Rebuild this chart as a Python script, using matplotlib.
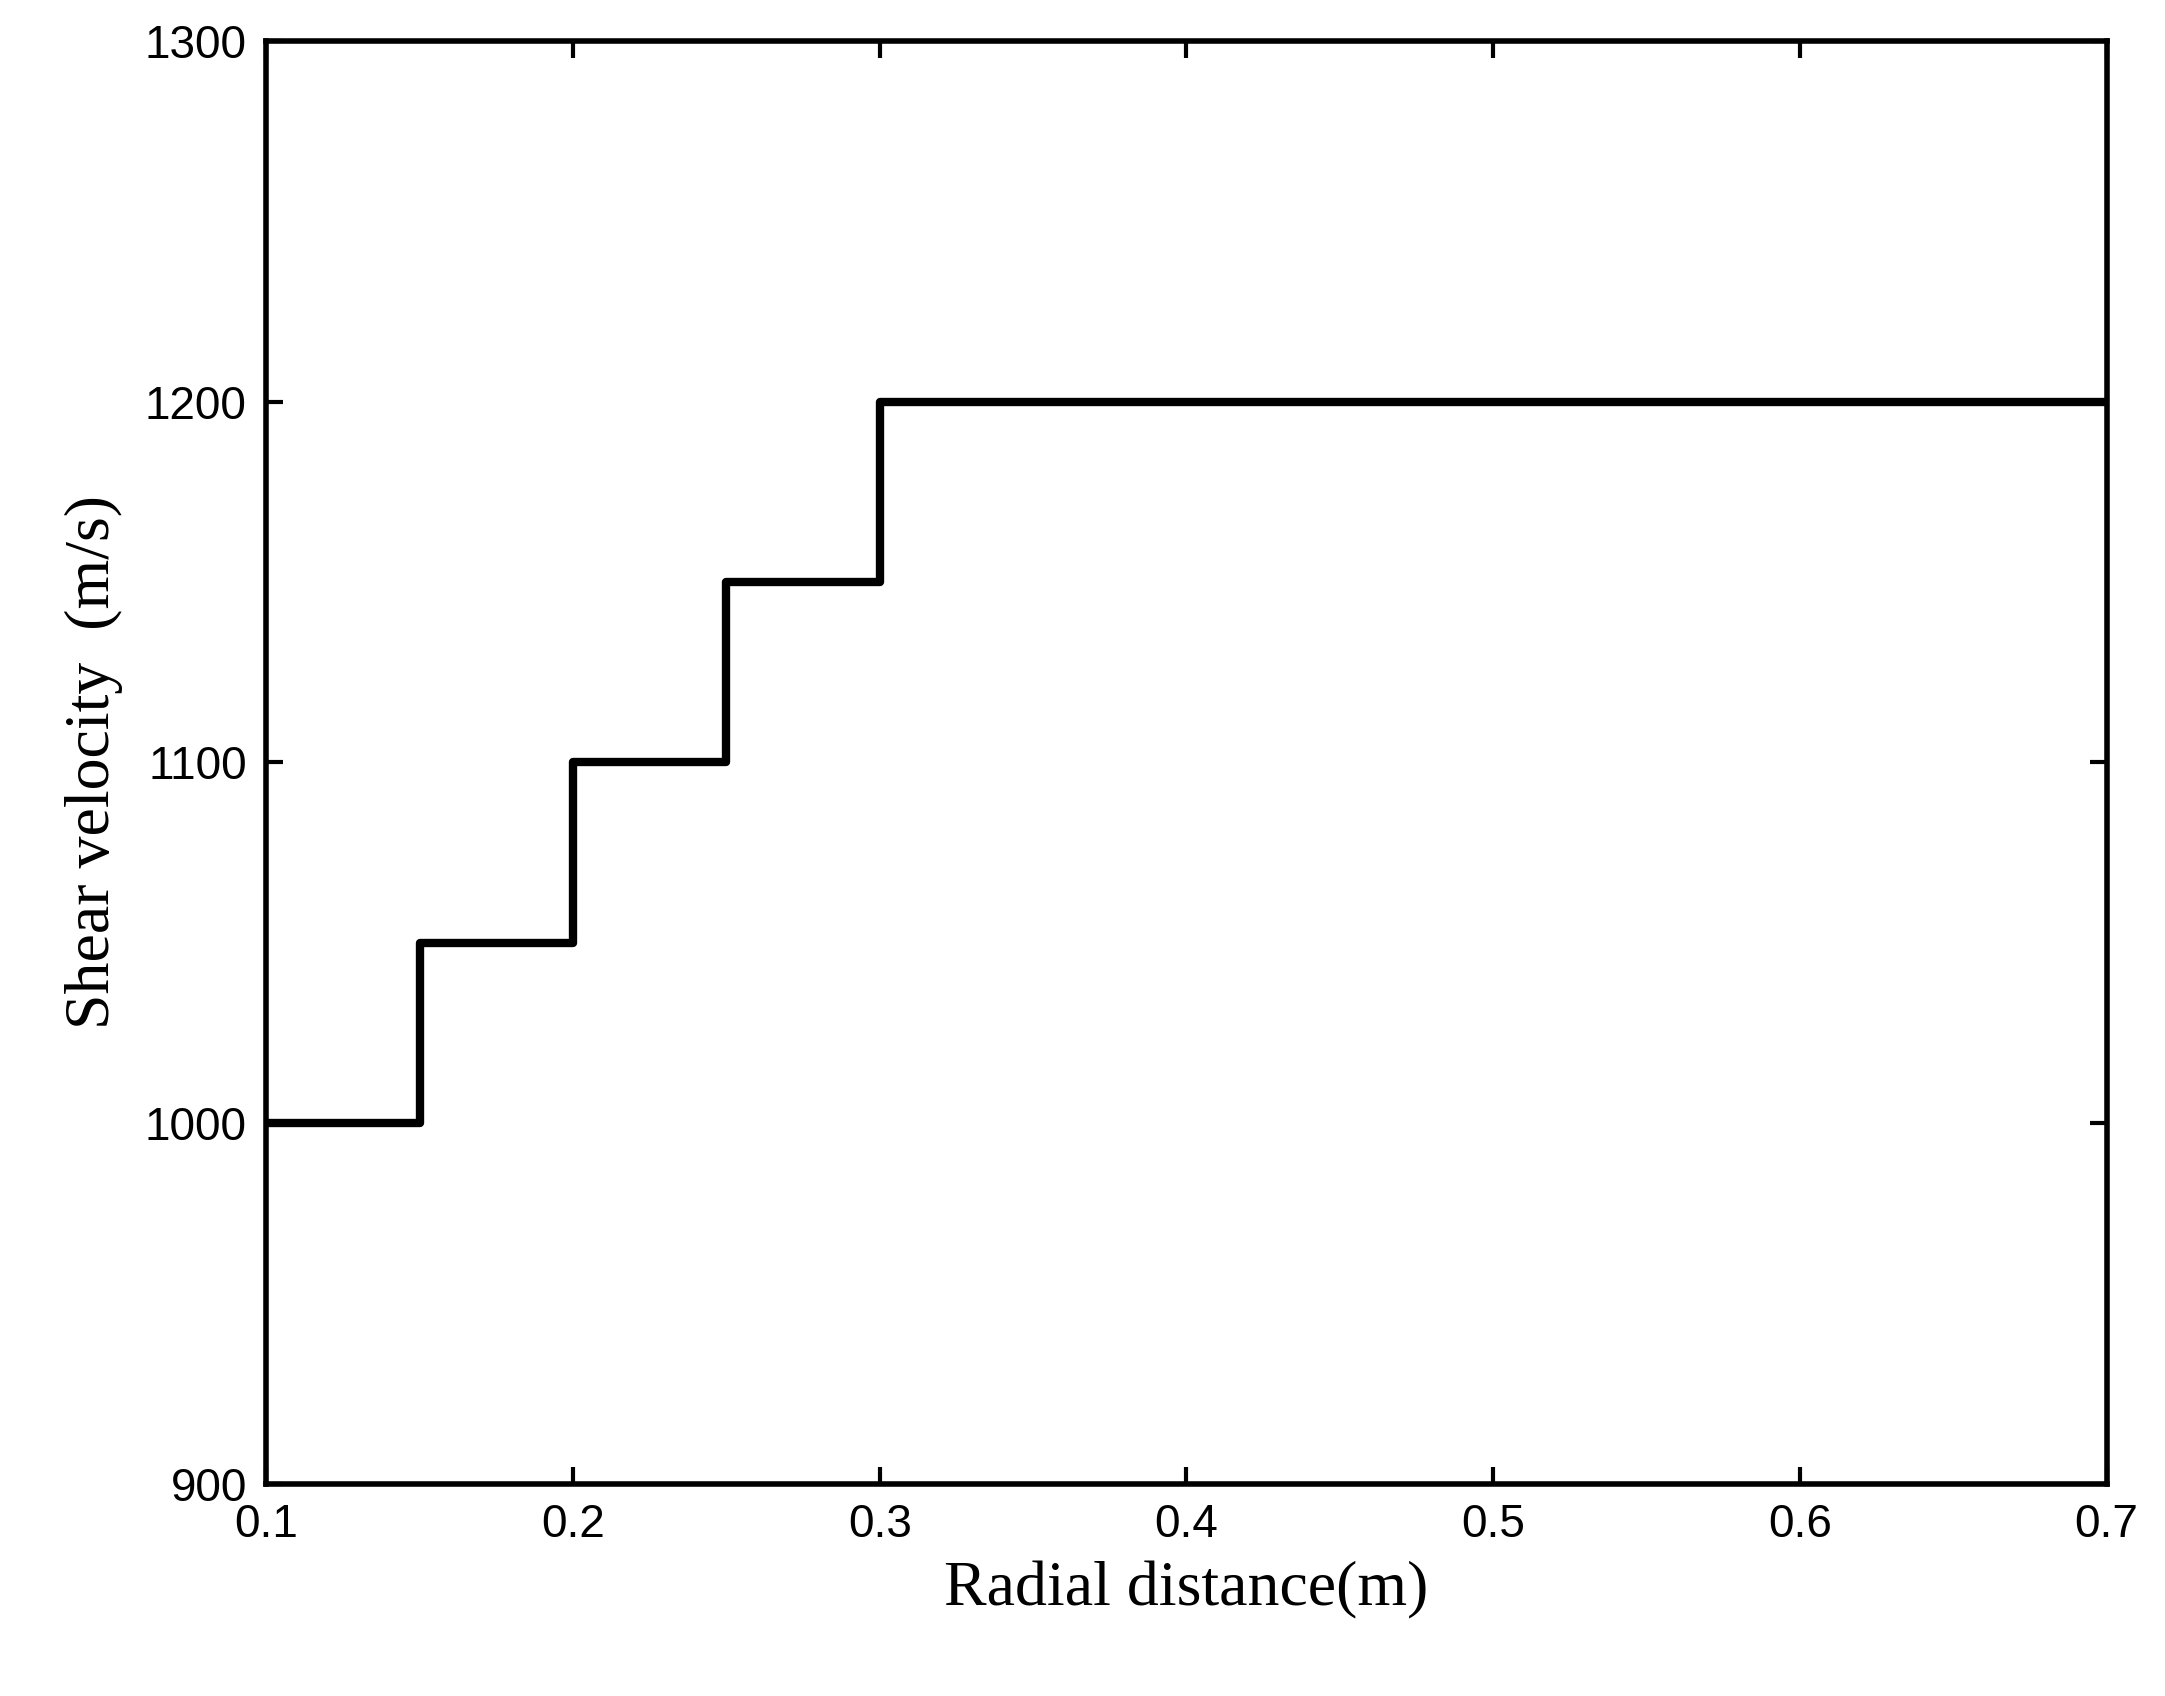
import matplotlib
matplotlib.use("Agg")
import matplotlib.pyplot as plt

# step profile: value holds from each edge to the next
radial_edges = [0.1, 0.15, 0.2, 0.25, 0.3, 0.7]
shear_velocity = [1000, 1050, 1100, 1150, 1200, 1200]

fig = plt.figure(figsize=(21.65, 16.96), dpi=100)
ax = fig.add_axes([0.123, 0.125, 0.850, 0.851])

ax.step(radial_edges, shear_velocity, where="post", color="black", lw=6)

ax.set_xlim(0.1, 0.7)
ax.set_ylim(900, 1300)
ax.set_xticks([0.1, 0.2, 0.3, 0.4, 0.5, 0.6, 0.7])
ax.set_yticks([900, 1000, 1100, 1200, 1300])

for s in ax.spines.values():
    s.set_linewidth(4)
ax.tick_params(direction="in", length=12, width=3, top=True, right=True,
               labelsize=33, pad=14)
for lbl in ax.get_xticklabels() + ax.get_yticklabels():
    lbl.set_fontfamily("Liberation Sans")

ax.set_xlabel("Radial distance(m)", family="Liberation Serif", fontsize=46, labelpad=10)
ax.set_ylabel("Shear velocity  (m/s)", family="Liberation Serif", fontsize=46, labelpad=16)

fig.savefig("out.png", dpi=100, facecolor="white")
